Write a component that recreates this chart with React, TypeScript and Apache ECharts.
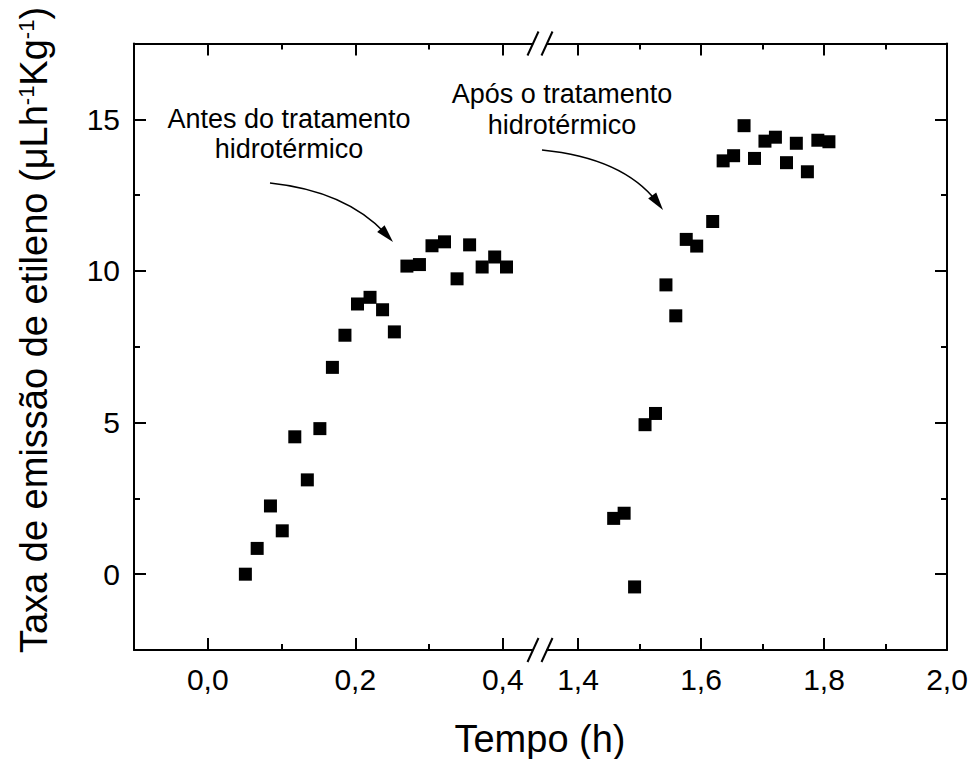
import React, { useEffect, useRef } from "react";
import * as echarts from "echarts";

// ---- data ----
const beforeTime = [0.051, 0.067, 0.085, 0.101, 0.118, 0.135, 0.152, 0.169, 0.186, 0.203, 0.22, 0.237, 0.253, 0.27, 0.287, 0.304, 0.321, 0.338, 0.355, 0.372, 0.389, 0.405];
const beforeRate = [0.0, 0.85, 2.25, 1.43, 4.53, 3.11, 4.8, 6.82, 7.88, 8.91, 9.13, 8.72, 7.99, 10.16, 10.21, 10.83, 10.96, 9.74, 10.86, 10.13, 10.46, 10.13];

const afterTime = [1.458, 1.475, 1.492, 1.509, 1.526, 1.543, 1.559, 1.576, 1.593, 1.619, 1.636, 1.653, 1.67, 1.687, 1.704, 1.721, 1.739, 1.755, 1.773, 1.79, 1.808];
const afterRate = [1.84, 2.01, -0.42, 4.93, 5.3, 9.54, 8.52, 11.04, 10.82, 11.63, 13.63, 13.8, 14.79, 13.71, 14.28, 14.41, 13.57, 14.21, 13.27, 14.31, 14.26];

const yMajorTicks = [0, 5, 10, 15];
const yMinorTicks = [2.5, 7.5, 12.5];
const leftXMajorTicks = [0, 0.2, 0.4];
const leftXMinorTicks = [0.1, 0.3];
const rightXMajorTicks = [1.4, 1.6, 1.8, 2.0];
const rightXMinorTicks = [1.5, 1.7, 1.9];

const xTitle = "Tempo (h)";
const yTitle = "Taxa de emissão de etileno (μLh{sup|-1}Kg{sup|-1})";
const noteBefore = "Antes do tratamento\nhidrotérmico";
const noteAfter = "Após o tratamento\nhidrotérmico";

const FONT = "Arial, 'Liberation Sans', Helvetica, sans-serif";
const BLACK = "#000";

const fmt = (v: number) => v.toFixed(1).replace(".", ",");

function buildOption() {
  const xAxis: any[] = [];
  const yAxis: any[] = [];

  const addX = (gridIndex: number, position: string, min: number, max: number, ticks: number[], len: number, line: boolean, labels: boolean) => {
    xAxis.push({
      type: "value",
      gridIndex,
      position,
      min,
      max,
      axisLine: { show: line, onZero: false, lineStyle: { color: BLACK, width: 2 } },
      axisTick: { show: true, inside: true, length: len, customValues: ticks, lineStyle: { color: BLACK, width: 2 } },
      axisLabel: labels
        ? { show: true, customValues: ticks, margin: 14, fontSize: 30, color: BLACK, fontFamily: FONT, formatter: fmt }
        : { show: false },
      splitLine: { show: false },
    });
    return xAxis.length - 1;
  };
  const addY = (gridIndex: number, position: string, ticks: number[], len: number, line: boolean, labels: boolean) => {
    yAxis.push({
      type: "value",
      gridIndex,
      position,
      min: -2.5,
      max: 17.5,
      axisLine: { show: line, onZero: false, lineStyle: { color: BLACK, width: 2 } },
      axisTick: { show: true, inside: true, length: len, customValues: ticks, lineStyle: { color: BLACK, width: 2 } },
      axisLabel: labels
        ? { show: true, customValues: ticks, margin: 14, fontSize: 30, color: BLACK, fontFamily: FONT }
        : { show: false },
      splitLine: { show: false },
    });
    return yAxis.length - 1;
  };

  // grid 0 (before break)
  const x0 = addX(0, "bottom", -0.1, 0.44, leftXMajorTicks, 12, true, true);
  addX(0, "bottom", -0.1, 0.44, leftXMinorTicks, 6, false, false);
  addX(0, "top", -0.1, 0.44, leftXMajorTicks, 12, true, false);
  addX(0, "top", -0.1, 0.44, leftXMinorTicks, 6, false, false);
  const y0 = addY(0, "left", yMajorTicks, 12, true, true);
  addY(0, "left", yMinorTicks, 6, false, false);

  // grid 1 (after break)
  const x1 = addX(1, "bottom", 1.35, 2.0, rightXMajorTicks, 12, true, true);
  addX(1, "bottom", 1.35, 2.0, rightXMinorTicks, 6, false, false);
  addX(1, "top", 1.35, 2.0, rightXMajorTicks, 12, true, false);
  addX(1, "top", 1.35, 2.0, rightXMinorTicks, 6, false, false);
  const y1 = addY(1, "right", yMajorTicks, 12, true, false);
  addY(1, "right", yMinorTicks, 6, false, false);

  const slash = (cx: number, cy: number) => ({
    type: "line",
    shape: { x1: cx - 5.5, y1: cy + 12, x2: cx + 5.5, y2: cy - 12 },
    style: { stroke: BLACK, lineWidth: 2 },
  });

  const arrowHead = (tx: number, ty: number, dx: number, dy: number) => {
    const l = Math.hypot(dx, dy);
    const ux = dx / l, uy = dy / l;
    const bx = tx - 18 * ux, by = ty - 18 * uy;
    const nx = -uy, ny = ux;
    return {
      type: "polygon",
      shape: { points: [[tx, ty], [bx + 5 * nx, by + 5 * ny], [bx - 5 * nx, by - 5 * ny]] },
      style: { fill: BLACK },
    };
  };

  const graphic: any[] = [
    // axis titles
    {
      type: "text",
      x: 540,
      y: 739,
      style: { text: xTitle, fontSize: 38, fontFamily: FONT, fill: BLACK, align: "center", verticalAlign: "middle" },
    },
    {
      type: "text",
      x: 34,
      y: 330,
      rotation: Math.PI / 2,
      style: {
        text: yTitle,
        fontSize: 38,
        fontFamily: FONT,
        fill: BLACK,
        align: "center",
        verticalAlign: "middle",
        rich: { sup: { fontSize: 22, fontFamily: FONT, fill: BLACK, verticalAlign: "top" } },
      },
    },
    // annotations
    {
      type: "text",
      x: 289,
      y: 133.5,
      style: { text: noteBefore, fontSize: 27, lineHeight: 30, fontFamily: FONT, fill: BLACK, align: "center", verticalAlign: "middle" },
    },
    {
      type: "text",
      x: 562,
      y: 109.5,
      style: { text: noteAfter, fontSize: 27, lineHeight: 31, fontFamily: FONT, fill: BLACK, align: "center", verticalAlign: "middle" },
    },
    // arrows
    {
      type: "bezierCurve",
      shape: { x1: 270, y1: 183, cpx1: 346, cpy1: 191, x2: 386, y2: 234 },
      style: { stroke: BLACK, lineWidth: 1.5, fill: "none" },
    },
    arrowHead(393, 242, 1, 1.1),
    {
      type: "bezierCurve",
      shape: { x1: 542, y1: 150, cpx1: 623, cpy1: 158, x2: 657, y2: 202 },
      style: { stroke: BLACK, lineWidth: 1.5, fill: "none" },
    },
    arrowHead(663, 210, 0.6, 0.8),
    // axis break marks
    slash(533, 650),
    slash(547, 650),
    slash(533, 43.5),
    slash(547, 43.5),
  ];

  return {
    animation: false,
    backgroundColor: "#fff",
    grid: [
      { left: 134, top: 43.5, width: 398.3, height: 606.5, outerBoundsMode: "none", containLabel: false },
      { left: 547.25, top: 43.5, width: 399.75, height: 606.5, outerBoundsMode: "none", containLabel: false },
    ],
    xAxis,
    yAxis,
    series: [
      {
        type: "scatter",
        xAxisIndex: x0,
        yAxisIndex: y0,
        symbol: "rect",
        symbolSize: 13,
        itemStyle: { color: BLACK, opacity: 1 },
        data: beforeTime.map((t, i) => [t, beforeRate[i]]),
      },
      {
        type: "scatter",
        xAxisIndex: x1,
        yAxisIndex: y1,
        symbol: "rect",
        symbolSize: 13,
        itemStyle: { color: BLACK, opacity: 1 },
        data: afterTime.map((t, i) => [t, afterRate[i]]),
      },
    ],
    graphic,
  };
}

export default function App() {
  const ref = useRef<HTMLDivElement>(null);
  useEffect(() => {
    document.body.style.margin = "0";
    if (!ref.current) return;
    const chart = echarts.init(ref.current, undefined, { renderer: "svg" });
    chart.setOption(buildOption() as any);
    return () => chart.dispose();
  }, []);
  return <div ref={ref} style={{ width: 971, height: 759 }} />;
}
